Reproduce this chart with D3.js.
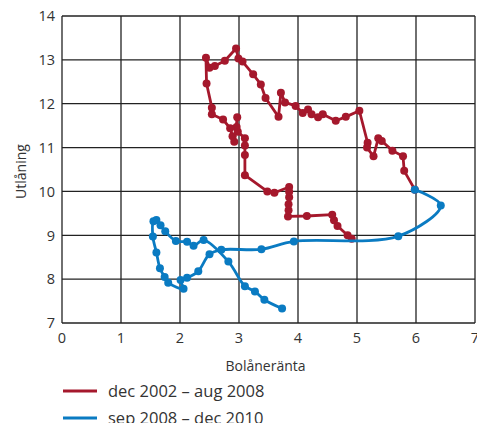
<!DOCTYPE html>
<html><head><meta charset="utf-8">
<script src="https://cdn.jsdelivr.net/npm/d3@7"></script>
<style>
html,body{margin:0;padding:0;background:#fff;}
svg{display:block;font-family:"Open Sans",Lato,sans-serif;}
</style></head>
<body><svg id="c" width="477" height="423"></svg>
<script>
// Data: [Bolåneränta, Utlåning]
const series1Name = "dec 2002 – aug 2008";
const series1X = [4.91,4.84,4.67,4.61,4.58,4.15,3.83,3.84,3.84,3.85,3.85,3.85,3.60,3.48,3.10,3.10,3.10,3.10,2.98,2.96,2.97,2.92,2.89,2.85,2.73,2.54,2.54,2.45,2.44,2.50,2.59,2.76,2.95,2.99,3.06,3.24,3.37,3.45,3.67,3.71,3.78,3.96,4.08,4.17,4.23,4.34,4.42,4.64,4.81,5.04,5.18,5.17,5.28,5.36,5.42,5.60,5.78,5.80,5.98];
const series1Y = [8.92,9.00,9.21,9.34,9.47,9.44,9.43,9.57,9.71,9.87,9.99,10.10,9.97,10.00,10.37,10.83,11.05,11.21,11.36,11.47,11.69,11.13,11.26,11.44,11.64,11.76,11.91,12.46,13.05,12.82,12.86,12.98,13.26,13.03,12.96,12.67,12.44,12.13,11.70,12.25,12.03,11.95,11.79,11.87,11.76,11.69,11.76,11.61,11.70,11.84,11.11,11.00,10.80,11.21,11.15,10.93,10.80,10.47,10.04];
const series2Name = "sep 2008 – dec 2010";
const series2X = [5.98,6.42,5.70,3.93,3.38,2.70,2.50,2.31,2.12,2.01,2.06,1.80,1.74,1.66,1.60,1.54,1.55,1.60,1.67,1.75,1.93,2.12,2.23,2.40,2.82,3.10,3.27,3.43,3.73];
const series2Y = [10.04,9.68,8.98,8.86,8.68,8.67,8.57,8.18,8.03,7.98,7.78,7.92,8.05,8.25,8.61,8.97,9.32,9.35,9.23,9.09,8.87,8.85,8.76,8.89,8.40,7.84,7.72,7.53,7.33];
const xTicks = [0,1,2,3,4,5,6,7];
const yTicks = [7,8,9,10,11,12,13,14];
const xTitle = "Bolåneränta";
const yTitle = "Utlåning";

const red = "#a5182c", blue = "#0a7bc2";
const svg = d3.select("#c");
const L = 62, R = 475, T = 16, B = 323;
const x = d3.scaleLinear().domain([0,7]).range([L,R]);
const y = d3.scaleLinear().domain([7,14]).range([B,T]);

// grid
const g = svg.append("g");
g.selectAll(".gy").data(yTicks).join("line")
  .attr("x1",L).attr("x2",R).attr("y1",d=>y(d)).attr("y2",d=>y(d))
  .attr("stroke","#222").attr("stroke-width",1.3);
g.selectAll(".gx").data(xTicks).join("line")
  .attr("y1",T).attr("y2",B).attr("x1",d=>x(d)).attr("x2",d=>x(d))
  .attr("stroke","#222").attr("stroke-width",1.3);

// tick labels
svg.append("g").selectAll("text").data(yTicks).join("text")
  .attr("x",55).attr("y",d=>y(d)).attr("dy","0.36em")
  .attr("text-anchor","end").attr("font-size",14.5).attr("fill","#333")
  .text(d=>d);
svg.append("g").selectAll("text").data(xTicks).join("text")
  .attr("x",d=>x(d)).attr("y",343)
  .attr("text-anchor","middle").attr("font-size",14.5).attr("fill","#333")
  .text(d=>d);

// titles
svg.append("text").attr("x",(L+R)/2-3).attr("y",371).attr("text-anchor","middle")
  .attr("font-size",14).attr("fill","#333").text(xTitle);
svg.append("text").attr("transform",`translate(26,${(T+B)/2+2}) rotate(-90)`)
  .attr("text-anchor","middle").attr("font-size",14).attr("fill","#333").text(yTitle);

function drawSeries(xs, ys, color, curve){
  const pts = xs.map((v,i)=>[v, ys[i]]);
  const line = d3.line().x(d=>x(d[0])).y(d=>y(d[1])).curve(curve);
  svg.append("path").attr("d", line(pts)).attr("fill","none")
    .attr("stroke",color).attr("stroke-width",2.8).attr("stroke-linejoin","round");
  svg.append("g").selectAll("circle").data(pts).join("circle")
    .attr("cx",d=>x(d[0])).attr("cy",d=>y(d[1])).attr("r",4).attr("fill",color);
}
drawSeries(series1X, series1Y, red, d3.curveLinear);
drawSeries(series2X, series2Y, blue, d3.curveCatmullRom.alpha(0.5));

// legend
const leg = [[series1Name, red, 391],[series2Name, blue, 418]];
leg.forEach(([name,color,yy])=>{
  svg.append("line").attr("x1",63).attr("x2",97).attr("y1",yy).attr("y2",yy)
    .attr("stroke",color).attr("stroke-width",2.8);
  svg.append("text").attr("x",108).attr("y",yy).attr("dy","0.35em")
    .attr("font-size",16.5).attr("fill","#333").text(name);
});
</script></body></html>
